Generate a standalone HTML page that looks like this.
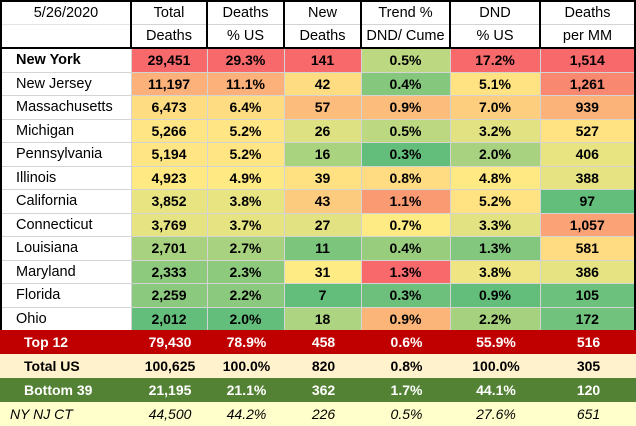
<!DOCTYPE html><html><head><style>
body{margin:0;background:#fff;width:636px;height:426px;overflow:hidden;font-family:"Liberation Sans",sans-serif}
table{border-collapse:collapse;table-layout:fixed;position:absolute;left:0;top:0}
td{padding:0;font-size:14px;text-align:center;white-space:nowrap;overflow:hidden;border:1px solid #d4d4d4;vertical-align:middle}
.h td{height:22px;font-size:14.5px;font-weight:normal;background:#fff}
.d td{height:22.5px;font-weight:bold}
.d td.n{text-align:left;padding-left:14px;font-weight:normal;font-size:14.5px;background:#fff}
.hd{border-left:2px solid #000;border-right:2px solid #000}
.s td{height:24px;font-weight:bold;border:none}
.t1 td{background:#c00000;color:#fff}
.t2 td{background:#fff2cc;color:#000}
.t3 td{background:#548235;color:#fff}
.t4 td{background:#ffffcc;font-weight:normal;font-style:italic}
.s td.n{text-align:left;padding-left:24px}
.t4 td.n{padding-left:10px}
</style></head><body>
<table style="border:2px solid #000">
<colgroup><col style="width:130px"><col style="width:76px"><col style="width:77px"><col style="width:77px"><col style="width:89px"><col style="width:90px"><col style="width:95px"></colgroup>
<tr class="h"><td style="border-bottom:none">5/26/2020</td><td class="hd" style="border-bottom:none">Total</td><td class="hd" style="border-bottom:none">Deaths</td><td class="hd" style="border-bottom:none">New</td><td class="hd" style="border-bottom:none">Trend %</td><td class="hd" style="border-bottom:none">DND</td><td class="hd" style="border-bottom:none">Deaths</td></tr>
<tr class="h" style="border-bottom:2px solid #000"><td style="border-top:1px solid #e4e4e4"></td><td class="hd">Deaths</td><td class="hd">% US</td><td class="hd">Deaths</td><td class="hd">DND/ Cume</td><td class="hd">% US</td><td class="hd">per MM</td></tr>
<tr class="d"><td class="n" style="font-weight:bold">New York</td><td style="background:#F8696B">29,451</td><td style="background:#F8696B">29.3%</td><td style="background:#F8696B">141</td><td style="background:#BCD881">0.5%</td><td style="background:#F8696B">17.2%</td><td style="background:#F8696B">1,514</td></tr>
<tr class="d"><td class="n">New Jersey</td><td style="background:#FBB179">11,197</td><td style="background:#FBB179">11.1%</td><td style="background:#FEDC82">42</td><td style="background:#84C77D">0.4%</td><td style="background:#FFE383">5.1%</td><td style="background:#F98870">1,261</td></tr>
<tr class="d"><td class="n">Massachusetts</td><td style="background:#FEDC81">6,473</td><td style="background:#FEDC81">6.4%</td><td style="background:#FCBC7B">57</td><td style="background:#FCBC7B">0.9%</td><td style="background:#FDCE7E">7.0%</td><td style="background:#FCB37A">939</td></tr>
<tr class="d"><td class="n">Michigan</td><td style="background:#FFE583">5,266</td><td style="background:#FFE583">5.2%</td><td style="background:#DEE182">26</td><td style="background:#BCD881">0.5%</td><td style="background:#E3E282">3.2%</td><td style="background:#FFE383">527</td></tr>
<tr class="d"><td class="n">Pennsylvania</td><td style="background:#FFE583">5,194</td><td style="background:#FFE583">5.2%</td><td style="background:#AAD380">16</td><td style="background:#63BE7B">0.3%</td><td style="background:#A8D27F">2.0%</td><td style="background:#E8E482">406</td></tr>
<tr class="d"><td class="n">Illinois</td><td style="background:#FEE983">4,923</td><td style="background:#FEE983">4.9%</td><td style="background:#FFE182">39</td><td style="background:#FFDB81">0.8%</td><td style="background:#FFE983">4.8%</td><td style="background:#E6E382">388</td></tr>
<tr class="d"><td class="n">California</td><td style="background:#E8E482">3,852</td><td style="background:#E8E482">3.8%</td><td style="background:#FDCB7E">43</td><td style="background:#FA9A73">1.1%</td><td style="background:#FFE383">5.2%</td><td style="background:#63BE7B">97</td></tr>
<tr class="d"><td class="n">Connecticut</td><td style="background:#E6E382">3,769</td><td style="background:#E6E382">3.7%</td><td style="background:#E2E282">27</td><td style="background:#FFEB84">0.7%</td><td style="background:#E3E282">3.3%</td><td style="background:#FBA376">1,057</td></tr>
<tr class="d"><td class="n">Louisiana</td><td style="background:#A8D27F">2,701</td><td style="background:#A8D27F">2.7%</td><td style="background:#7CC57C">11</td><td style="background:#98CD7E">0.4%</td><td style="background:#82C77D">1.3%</td><td style="background:#FFDB81">581</td></tr>
<tr class="d"><td class="n">Maryland</td><td style="background:#8DCA7D">2,333</td><td style="background:#8DCA7D">2.3%</td><td style="background:#FFEB84">31</td><td style="background:#F8696B">1.3%</td><td style="background:#EFE683">3.8%</td><td style="background:#E6E382">386</td></tr>
<tr class="d"><td class="n">Florida</td><td style="background:#8BC97E">2,259</td><td style="background:#8BC97E">2.2%</td><td style="background:#63BE7B">7</td><td style="background:#6CC07C">0.3%</td><td style="background:#63BE7B">0.9%</td><td style="background:#6CC17C">105</td></tr>
<tr class="d"><td class="n">Ohio</td><td style="background:#63BE7B">2,012</td><td style="background:#63BE7B">2.0%</td><td style="background:#ADD480">18</td><td style="background:#FBB579">0.9%</td><td style="background:#A6D27F">2.2%</td><td style="background:#70C27C">172</td></tr>
</table>
<table style="top:330px">
<colgroup><col style="width:132px"><col style="width:76px"><col style="width:77px"><col style="width:77px"><col style="width:89px"><col style="width:90px"><col style="width:95px"></colgroup>
<tr class="s t1"><td class="n">Top 12</td><td>79,430</td><td>78.9%</td><td>458</td><td>0.6%</td><td>55.9%</td><td>516</td></tr>
<tr class="s t2"><td class="n">Total US</td><td>100,625</td><td>100.0%</td><td>820</td><td>0.8%</td><td>100.0%</td><td>305</td></tr>
<tr class="s t3"><td class="n">Bottom 39</td><td>21,195</td><td>21.1%</td><td>362</td><td>1.7%</td><td>44.1%</td><td>120</td></tr>
<tr class="s t4"><td class="n">NY NJ CT</td><td>44,500</td><td>44.2%</td><td>226</td><td>0.5%</td><td>27.6%</td><td>651</td></tr>
</table>
</body></html>
